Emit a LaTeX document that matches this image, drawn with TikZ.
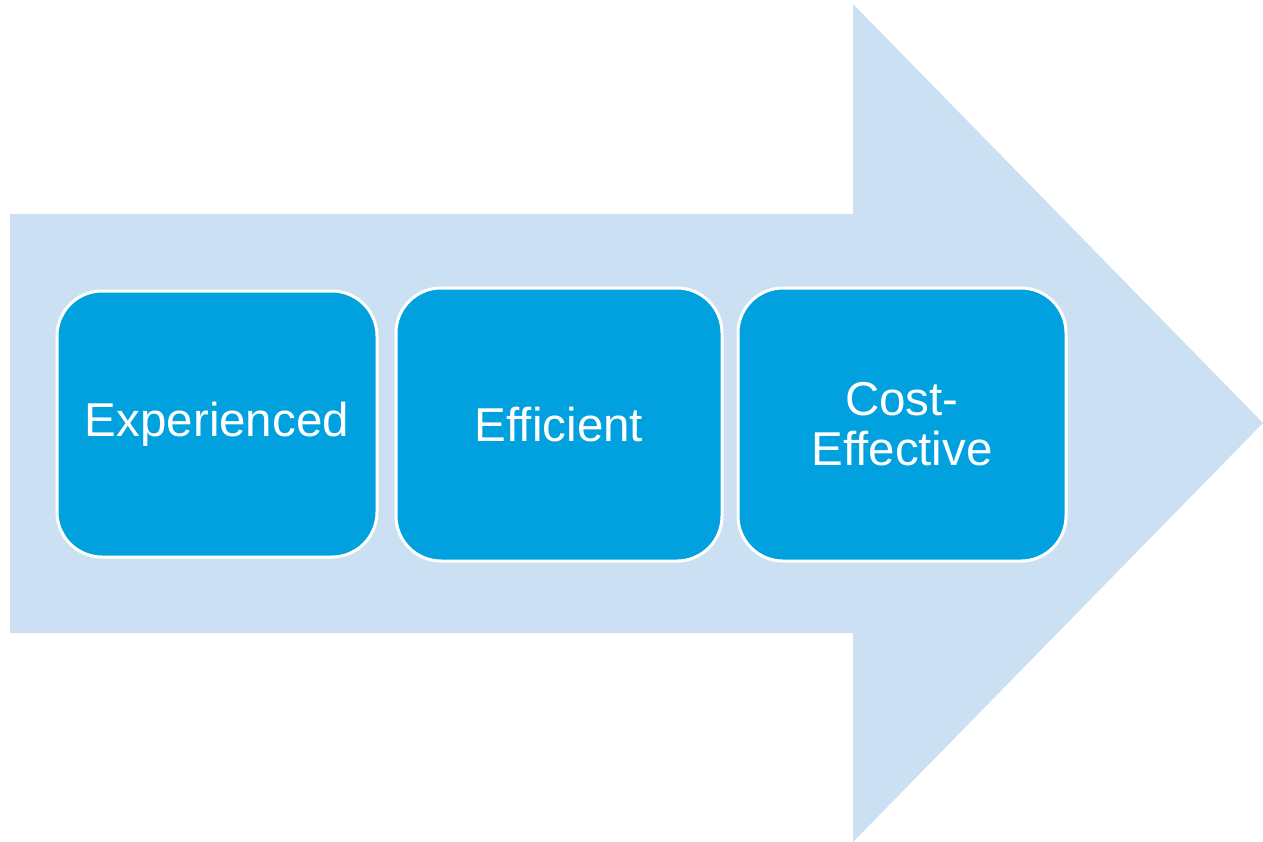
\documentclass[tikz,border=0pt]{standalone}
\usepackage{fontspec}
\setmainfont{Liberation Sans}
\definecolor{arrowblue}{HTML}{CCE0F3}
\definecolor{boxblue}{HTML}{00A1DE}
\begin{document}
\begin{tikzpicture}[x=1pt,y=-1pt,
  stagebox/.style={draw=white, line width=3pt, fill=boxblue, rounded corners=45pt,
    text=white, font=\fontsize{47.5}{50}\selectfont, align=center, inner sep=0pt}]
\useasboundingbox (0,0) rectangle (1263,842);
\fill[arrowblue] (10,214) -- (853,214) -- (853,4) -- (1263,423) -- (853,842) -- (853,633) -- (10,633) -- cycle;
\node[stagebox, minimum width=320pt, minimum height=266pt] (exp) at (217,424) {Experienced};
\node[stagebox, minimum width=326pt, minimum height=273pt] (eff) at (559,424.5) {Efficient};
\node[stagebox, minimum width=328pt, minimum height=273pt] (cost) at (902,424.5) {Cost-\\Effective};
\end{tikzpicture}
\end{document}
